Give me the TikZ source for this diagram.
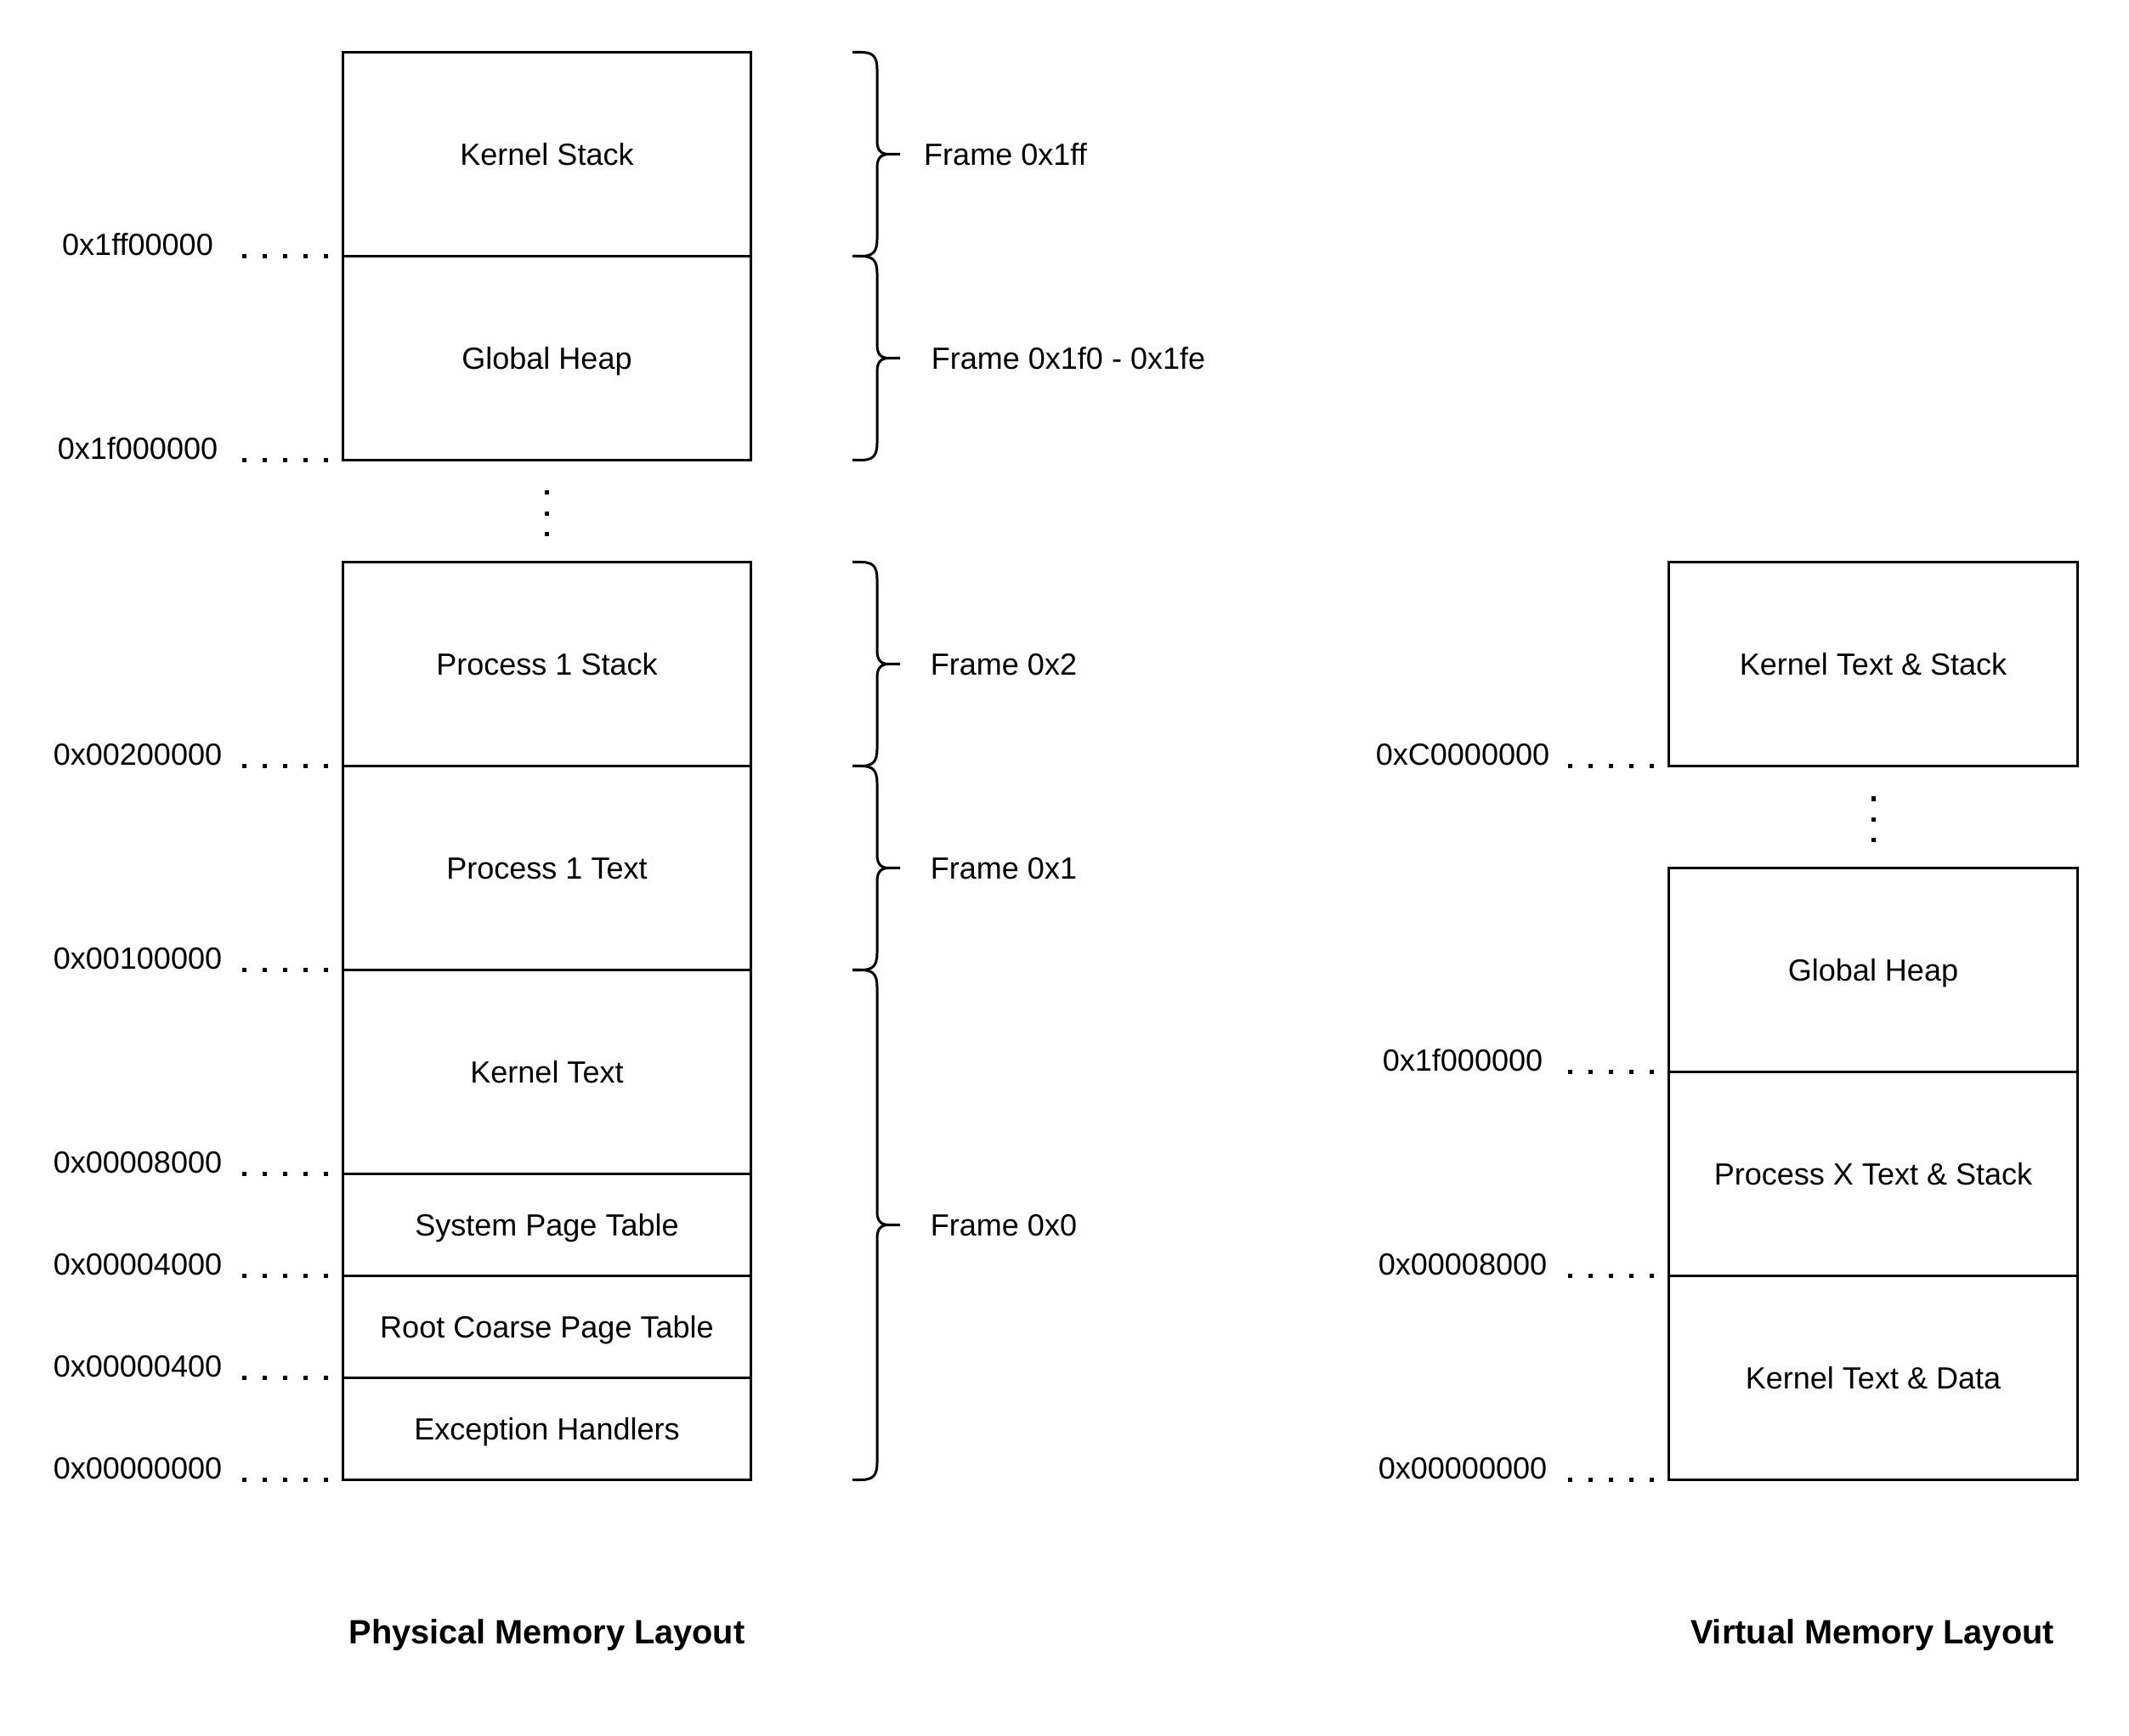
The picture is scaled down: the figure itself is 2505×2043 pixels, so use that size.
\documentclass[tikz,border=0pt]{standalone}
\usepackage{fontspec}
\setmainfont{Liberation Sans}
\newcommand{\dfs}{\fontsize{10.245pt}{12pt}\selectfont}
\newcommand{\tfs}{\fontsize{11.3pt}{13pt}\selectfont}
\tikzset{
  memblock/.style={draw, line width=0.03cm, minimum width=4.8cm, inner sep=0pt, outer sep=0pt,
    text height=0.255cm, text depth=0pt, font=\dfs},
  addr/.style={inner sep=0pt, outer sep=0pt, text height=0.255cm, text depth=0pt, font=\dfs},
  titletext/.style={inner sep=0pt, outer sep=0pt, text height=0.28cm, text depth=0pt, font=\tfs\bfseries},
  dotline/.style={line width=0.05cm, dash pattern=on 0.05cm off 0.19cm},
  bracestyle/.style={line width=0.03cm},
}
\newcommand{\framebrace}[5]{%
  \pgfmathsetmacro\bm{(#1+#2)/2}%
  \draw[bracestyle] (1003,#1) -- (1013,#1) .. controls (1027,#1) and (1032,#1+5) .. (1032,#1+20)
    -- (1032,\bm-16) .. controls (1032,\bm-5) and (1036,\bm) .. (1046,\bm) -- (1059,\bm)
    (1046,\bm) .. controls (1036,\bm) and (1032,\bm+5) .. (1032,\bm+16)
    -- (1032,#2-20) .. controls (1032,#2-5) and (1027,#2) .. (1013,#2) -- (1003,#2);
  \node[addr] (#3) at (#4,\bm) {#5};
}
\begin{document}
\begin{tikzpicture}[x=0.01cm,y=-0.01cm]
\useasboundingbox (0,0) rectangle (2505,2043);

% Physical memory blocks
\node[memblock, minimum height=2.4cm] (ks)   at (643.5,181.5)  {Kernel Stack};
\node[memblock, minimum height=2.4cm] (gh)   at (643.5,421.5)  {Global Heap};
\node[memblock, minimum height=2.4cm] (p1s)  at (643.5,781.5)  {Process 1 Stack};
\node[memblock, minimum height=2.4cm] (p1t)  at (643.5,1021.5) {Process 1 Text};
\node[memblock, minimum height=2.4cm] (kt)   at (643.5,1261.5) {Kernel Text};
\node[memblock, minimum height=1.2cm] (spt)  at (643.5,1441.5) {System Page Table};
\node[memblock, minimum height=1.2cm] (rcpt) at (643.5,1561.5) {Root Coarse Page Table};
\node[memblock, minimum height=1.2cm] (eh)   at (643.5,1681.5) {Exception Handlers};

% Virtual memory blocks
\node[memblock, minimum height=2.4cm] (kts) at (2204,781.5)  {Kernel Text \& Stack};
\node[memblock, minimum height=2.4cm] (vgh) at (2204,1141.5) {Global Heap};
\node[memblock, minimum height=2.4cm] (pxt) at (2204,1381.5) {Process X Text \& Stack};
\node[memblock, minimum height=2.4cm] (ktd) at (2204,1621.5) {Kernel Text \& Data};

% vertical ellipses
\coordinate (e1a) at (643.5,577.5);  \coordinate (e1b) at (643.5,632);
\coordinate (e2a) at (2204,937.5);   \coordinate (e2b) at (2204,992);
\draw[dotline] (e1a) -- (e1b);
\draw[dotline] (e2a) -- (e2b);

% address markers (physical)
\foreach \nd/\txt/\yy in {ks.south west/0x1ff00000/301.5, gh.south west/0x1f000000/541.5,
  p1s.south west/0x00200000/901.5, p1t.south west/0x00100000/1141.5,
  kt.south west/0x00008000/1381.5, spt.south west/0x00004000/1501.5,
  rcpt.south west/0x00000400/1621.5, eh.south west/0x00000000/1741.5}{
  \draw[dotline] ([xshift=-1.185cm]\nd) -- (\nd);
  \node[addr] at (162,\yy-14) {\txt};
}
% address markers (virtual)
\foreach \nd/\txt/\yy in {kts.south west/0xC0000000/901.5, vgh.south west/0x1f000000/1261.5,
  pxt.south west/0x00008000/1501.5, ktd.south west/0x00000000/1741.5}{
  \draw[dotline] ([xshift=-1.19cm]\nd) -- (\nd);
  \node[addr] at (1721,\yy-14) {\txt};
}

% frame braces
\framebrace{61.5}{301.5}{fr1}{1183}{Frame 0x1ff}
\framebrace{301.5}{541.5}{fr2}{1257}{Frame 0x1f0 - 0x1fe}
\framebrace{661.5}{901.5}{fr3}{1181}{Frame 0x2}
\framebrace{901.5}{1141.5}{fr4}{1181}{Frame 0x1}
\framebrace{1141.5}{1741.5}{fr5}{1181}{Frame 0x0}

% titles
\node[titletext] (ptitle) at (643.5,1920) {Physical Memory Layout};
\node[titletext] (vtitle) at (2203,1920) {Virtual Memory Layout};
\end{tikzpicture}
\end{document}
